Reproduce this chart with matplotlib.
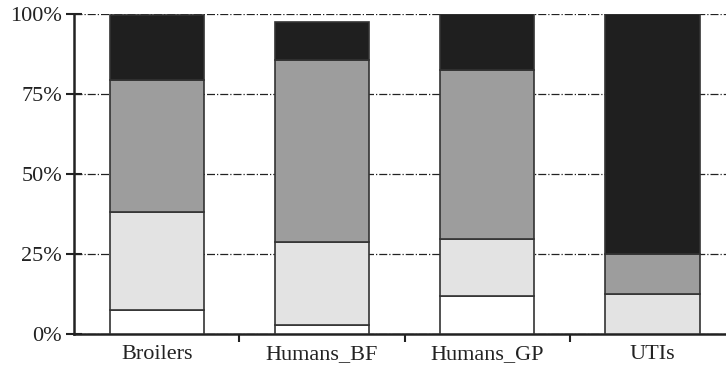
import matplotlib
matplotlib.use("Agg")
import matplotlib.pyplot as plt
import numpy as np

plt.rcParams["font.family"] = ["Liberation Serif", "DejaVu Serif"]

categories = ["Broilers", "Humans_BF", "Humans_GP", "UTIs"]
# stacked segments, bottom to top (% of isolates)
seg_white = [7.5, 2.8, 11.9, 0.0]
seg_light = [30.5, 25.9, 17.8, 12.5]
seg_mid = [41.2, 56.9, 52.8, 12.5]
seg_dark = [20.4, 11.7, 17.5, 75.0]

colors = ["#ffffff", "#e3e3e3", "#9d9d9d", "#1f1f1f"]

fig = plt.figure(figsize=(7.26, 3.74), dpi=100)
ax = fig.add_axes([0.102, 0.107, 0.898, 0.856])

x = np.arange(len(categories))
bottom = np.zeros(len(categories))
for vals, c in zip([seg_white, seg_light, seg_mid, seg_dark], colors):
    vals = np.array(vals)
    ax.bar(x, vals, 0.57, bottom=bottom, color=c, edgecolor="#333333",
           linewidth=1.2, zorder=3)
    bottom += vals

ax.set_xlim(-0.5, 3.445)
ax.set_ylim(0, 100)
ax.set_yticks([0, 25, 50, 75, 100])
ax.set_yticklabels(["0%", "25%", "50%", "75%", "100%"])
ax.set_xticks(x)
ax.set_xticklabels(categories)
ax.set_xticks([0.5, 1.5, 2.5], minor=True)

ax.yaxis.grid(True, linestyle="-.", color="#222222", linewidth=0.9, zorder=0)
ax.tick_params(axis="y", direction="inout", length=11, width=1.5,
               labelsize=16, pad=3, colors="#222222")
ax.tick_params(axis="x", which="major", length=0, labelsize=16, pad=8,
               colors="#222222")
ax.tick_params(axis="x", which="minor", direction="out", length=6, width=1.5,
               color="#222222")

for s in ["top", "right"]:
    ax.spines[s].set_visible(False)
for s in ["left", "bottom"]:
    ax.spines[s].set_linewidth(1.8)
    ax.spines[s].set_color("#222222")

fig.savefig("out.png", dpi=100)
